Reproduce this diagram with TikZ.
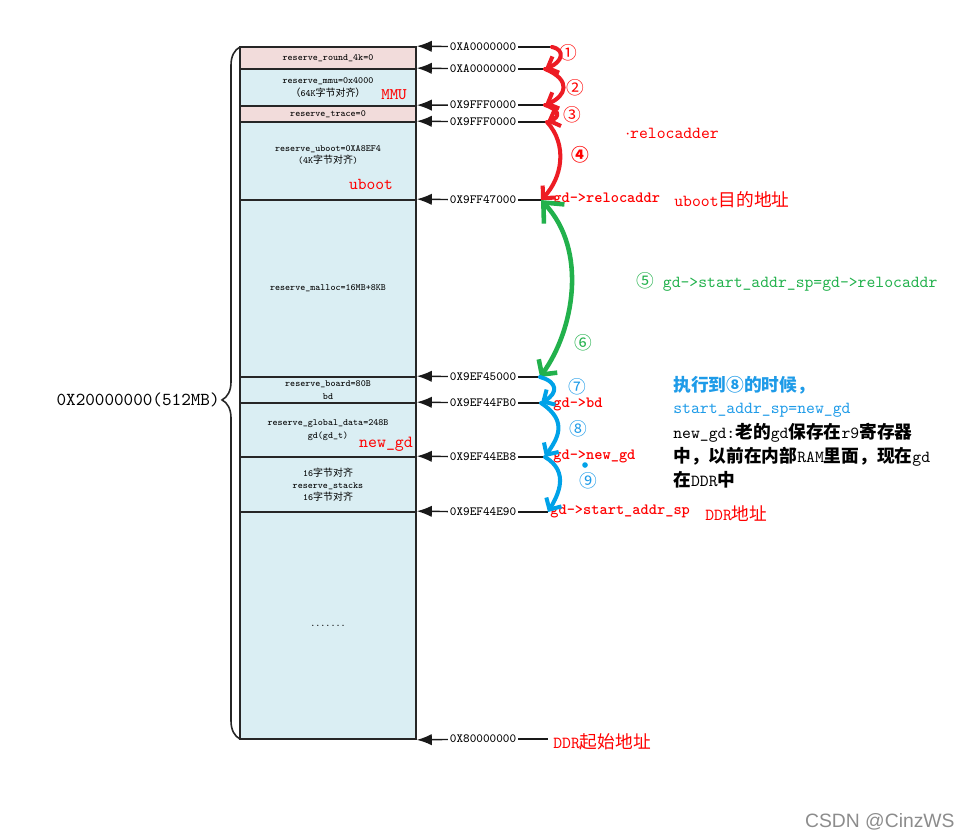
\documentclass[tikz,border=0pt]{standalone}
\usepackage{fontspec}
\renewcommand\familydefault{\ttdefault}
\newfontfamily\cjk[Scale=1.05]{Noto Sans CJK SC}
\newfontfamily\wmfont{Liberation Sans}
\usetikzlibrary{arrows.meta,decorations.pathreplacing}

\definecolor{pinkcell}{HTML}{F2DCDB}
\definecolor{bluecell}{HTML}{DAEEF3}
\definecolor{penred}{HTML}{ED1C24}
\definecolor{pengreen}{HTML}{22B14C}
\definecolor{penblue}{HTML}{00A2E8}
\definecolor{txtred}{HTML}{FF0000}
\definecolor{txtgreen}{HTML}{22B14C}
\definecolor{txtblue}{HTML}{1E9BE8}

\tikzset{
    memcell/.style={draw=black!85, line width=1pt, minimum width=3.52cm, inner sep=0pt,
        align=center, font=\fontsize{5.4}{7}\selectfont},
    addr/.style={inner sep=1pt, font=\fontsize{7.1}{8}\selectfont},
    addrline/.style={draw=black!90, line width=0.8pt},
    pen/.style={line width=2.3pt, line cap=round, line join=round},
    redpen/.style={pen, draw=penred, -{Straight Barb[length=5pt,width=10pt]}},
    bluepen/.style={pen, draw=penblue, -{Straight Barb[length=5pt,width=10pt]}},
    greenpen/.style={pen, draw=pengreen, line width=2.6pt,
        {Straight Barb[length=9pt,width=16pt]}-{Straight Barb[length=6pt,width=13pt]}},
    note/.style={anchor=west, inner sep=0pt, font=\fontsize{9.6}{13.6}\selectfont},
    gdlbl/.style={note, text=txtred, font=\bfseries\fontsize{8.9}{10}\selectfont},
    step no/.style={inner sep=0pt, font=\cjk\fontsize{9.6}{10}\selectfont},
}

\begin{document}
\begin{tikzpicture}[x=0.02cm, y=-0.02cm]
    \useasboundingbox (0,0) rectangle (969,839);

    % memory column, top = high address
    \node[memcell, fill=pinkcell, minimum height=0.44cm] (round)  at (328,58)    {reserve\_round\_4k=0};
    \node[memcell, fill=bluecell, minimum height=0.74cm] (mmu)    at (328,87.5)  {reserve\_mmu=0x4000\\{\cjk （}64K{\cjk 字节对齐）}};
    \node[memcell, fill=pinkcell, minimum height=0.32cm] (trace)  at (328,114)   {reserve\_trace=0};
    \node[memcell, fill=bluecell, minimum height=1.56cm] (uboot)  at (328,161)   {reserve\_uboot=0XA8EF4\\(4K{\cjk 字节对齐})\\\mbox{}};
    \node[memcell, fill=bluecell, minimum height=3.54cm] (malloc) at (328,288.5) {reserve\_malloc=16MB+8KB};
    \node[memcell, fill=bluecell, minimum height=0.52cm] (board)  at (328,390)   {reserve\_board=80B\\bd};
    \node[memcell, fill=bluecell, minimum height=1.08cm] (gdata)  at (328,430)   {reserve\_global\_data=248B\\gd(gd\_t)};
    \node[memcell, fill=bluecell, minimum height=1.10cm] (stacks) at (328,484.5) {16{\cjk 字节对齐}\\reserve\_stacks\\16{\cjk 字节对齐}};
    \node[memcell, fill=bluecell, minimum height=4.54cm] (rest)   at (328,625.5) {.......};

    \node[text=txtred, inner sep=0pt, font=\fontsize{9.2}{10}\selectfont] (mmulbl)   at (394,95)  {MMU};
    \node[text=txtred, inner sep=0pt, font=\fontsize{9.5}{10}\selectfont] (ubootlbl) at (371,184) {uboot};
    \node[text=txtred, inner sep=0pt, font=\fontsize{9.7}{10}\selectfont] (newgdlbl) at (386,444) {new\_gd};

    % total size
    \draw[line width=0.9pt, black!85, decorate, decoration={brace, amplitude=0.36cm, aspect=0.49}]
        (240,739) -- (240,47);
    \node[anchor=east, inner sep=0pt, font=\fontsize{10.4}{11}\selectfont] (total) at (220,400) {0X20000000(512MB)};

    % addresses
    \foreach \n/\y/\addr/\tgt/\ex in {1/47/0XA0000000/round.north east/552,
                                      2/69/0XA0000000/mmu.north east/545,
                                      3/105/0X9FFF0000/trace.north east/545,
                                      4/122/0X9FFF0000/uboot.north east/547,
                                      5/200/0X9FF47000/malloc.north east/541,
                                      6/377/0X9EF45000/board.north east/540,
                                      7/403/0X9EF44FB0/gdata.north east/541,
                                      8/457/0X9EF44EB8/stacks.north east/545,
                                      9/512/0X9EF44E90/rest.north east/548,
                                      10/739/0X80000000/rest.south east/548}{
        \node[addr] (a\n) at (483,\y) {\addr};
        \coordinate (e\n) at (\ex,\y);
        \draw[addrline, -{Latex[length=8.5pt,width=6.5pt]}] (a\n) -- (\tgt);
        \draw[addrline] (a\n) -- (e\n);
    }

    % labels on the right
    \node[gdlbl] (relocaddr) at (553,199) {gd->relocaddr};
    \node[gdlbl] (bd)        at (553,404) {gd->bd};
    \node[gdlbl] (newgd)     at (553,456) {gd->new\_gd};
    \node[gdlbl] (startsp)   at (550,511) {gd->start\_addr\_sp};
    \node[note, text=txtred] (reloc)   at (625,133) {$\cdot$relocadder};
    \node[note, text=txtred] (ubootdst) at (674,200) {uboot{\cjk 目的地址}};
    \node[note, text=txtred] (ddr)     at (705,514) {DDR{\cjk 地址}};
    \node[note, text=txtred] (ddrbase) at (553,742) {DDR{\cjk 起始地址}};
    \node[note, text=txtgreen] (spnote) at (636,282) {{\cjk ⑤} gd->start\_addr\_sp=gd->relocaddr};
    \node[note, text=txtblue] (when)   at (673,385) {{\cjk\bfseries 执行到⑧的时候，}};
    \node[note, text=txtblue] (spnew)  at (673,410) {start\_addr\_sp=new\_gd};
    \node[note, align=left]   (expl)   at (673,456) {new\_gd:{\cjk\bfseries 老的}gd{\cjk\bfseries 保存在}r9{\cjk\bfseries 寄存器}\\
        {\cjk\bfseries 中，以前在内部}RAM{\cjk\bfseries 里面，现在}gd\\{\cjk\bfseries 在}DDR{\cjk\bfseries 中}};

    % step numbers
    \node[step no, text=txtred]   (s1) at (568,53)  {①};
    \node[step no, text=txtred]   (s2) at (575,88)  {②};
    \node[step no, text=txtred]   (s3) at (572,115) {③};
    \node[step no, text=txtred, font=\cjk\bfseries\fontsize{9.6}{10}\selectfont] (s4) at (580,155) {④};
    \node[step no, text=txtgreen] (s6) at (583,343) {⑥};
    \node[step no, text=txtblue]  (s7) at (577,387) {⑦};
    \node[step no, text=txtblue]  (s8) at (578,429) {⑧};
    \node[step no, text=txtblue]  (s9) at (588,481) {⑨};
    \fill[penblue] (585,465) circle (1.6pt);

    % hand drawn steps
    \draw[redpen] (e1) .. controls (566,50) and (562,62) .. (e2);   % 1
    \draw[redpen] (e2) .. controls (572,80) and (566,96) .. (e3);   % 2
    \draw[redpen] (e3) .. controls (560,110) and (560,117) .. (e4); % 3
    \draw[redpen] (e4) .. controls (568,145) and (562,178) .. (e5); % 4
    \draw[greenpen] (e5) .. controls (588,250) and (574,330) .. (e6); % 5 / 6
    \draw[bluepen] (e6) .. controls (558,382) and (558,393) .. (e7); % 7
    \draw[bluepen] (e7) .. controls (570,422) and (556,440) .. (e8); % 8
    \draw[bluepen] (e8) .. controls (570,472) and (558,495) .. (e9); % 9

    \node[anchor=east, inner sep=0pt, text=black!45, font=\wmfont\fontsize{11}{13}\selectfont] (wm) at (955,822) {CSDN @CinzWS};
\end{tikzpicture}
\end{document}
